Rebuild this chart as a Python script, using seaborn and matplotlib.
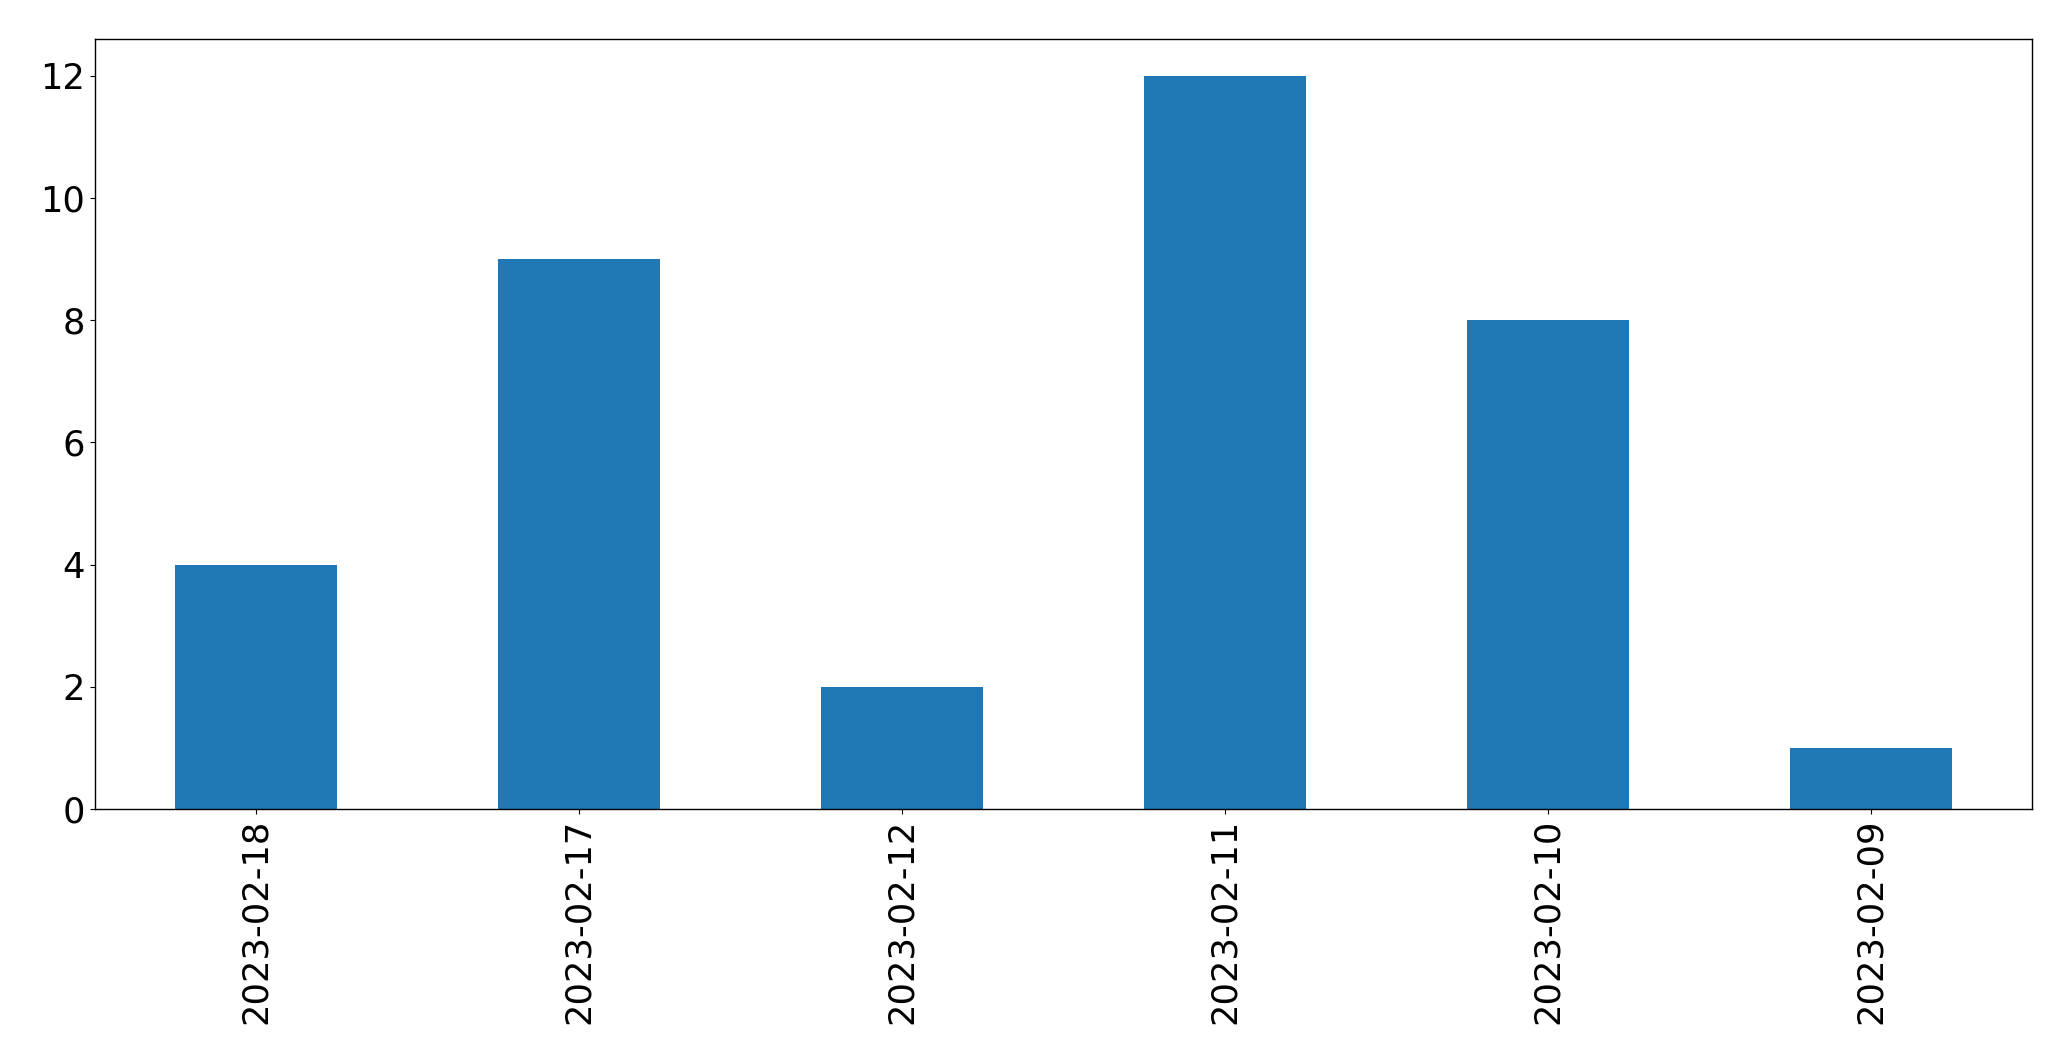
import matplotlib
matplotlib.use("Agg")
import matplotlib.pyplot as plt
import seaborn as sns
import pandas as pd

dates = ["2023-02-18", "2023-02-17", "2023-02-12", "2023-02-11", "2023-02-10", "2023-02-09"]
counts = [4, 9, 2, 12, 8, 1]

df = pd.DataFrame({"date": dates, "count": counts})

sns.set_style("ticks")
plt.rcParams['font.family'] = ['DejaVu Sans']

fig = plt.figure(figsize=(20.71, 10.61), dpi=100)
ax = fig.add_axes([0.0457, 0.2375, 0.9356, 0.7255])
sns.barplot(data=df, x="date", y="count", order=dates, color="#1f77b4",
            saturation=1, width=0.5, ax=ax, edgecolor="none")
ax.set_xlim(-0.5, 5.5)
ax.set_ylim(0, 12.6)
ax.set_yticks([0, 2, 4, 6, 8, 10, 12])
ax.set_xlabel("")
ax.set_ylabel("")
ax.tick_params(axis="both", labelsize=25.4, length=3.5, width=0.8,
               colors="black", labelcolor="black")
plt.setp(ax.get_xticklabels(), rotation=90)
for s in ax.spines.values():
    s.set_visible(True)
    s.set_linewidth(1.0)
    s.set_color("black")
fig.savefig("out.png", dpi=100)
